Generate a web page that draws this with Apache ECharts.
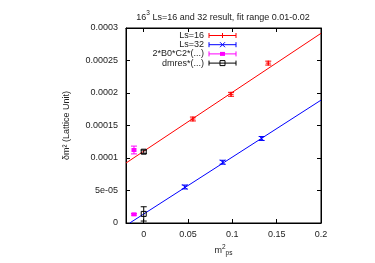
<!DOCTYPE html>
<html><head><meta charset="utf-8">
<script src="https://cdn.jsdelivr.net/npm/echarts@6/dist/echarts.min.js"></script>
<style>html,body{margin:0;padding:0;background:#fff}#c{width:375px;height:263px}</style>
</head><body><div id="c"></div>
<script>
// ---- data ----
const xTicks = [0, 0.05, 0.1, 0.15, 0.2];
const xTickLabels = ['0', '0.05', '0.1', '0.15', '0.2'];
const yTicks = [0, 0.00005, 0.0001, 0.00015, 0.0002, 0.00025, 0.0003];
const yTickLabels = ['0', '5e-05', '0.0001', '0.00015', '0.0002', '0.00025', '0.0003'];

const ls16X = [0.0555, 0.0985, 0.1405];
const ls16Y = [0.000160, 0.000198, 0.000246];
const ls16Err = [0.000003, 0.000003, 0.000003];

const ls32X = [0.0463, 0.089, 0.133];
const ls32Y = [0.0000554, 0.0000935, 0.000130];
const ls32Err = [0.000003, 0.000003, 0.000003];

const b0c2X = [-0.011, -0.011];
const b0c2Y = [0.0001123, 0.0000133];
const b0c2Err = [0.000006, 0.0000012];

const dmresX = [0, 0];
const dmresY = [0.0001097, 0.0000140];
const dmresErr = [0.0000025, 0.000011];

const fit16 = [[-0.02, 0.0000923], [0.2, 0.0002918]];
const fit32 = [[-0.0158, 0], [0.2, 0.000189]];

const legendNames = ['Ls=16', 'Ls=32', '2*B0*C2*(...)', 'dmres*(...)'];
const RED = '#ff0000', BLUE = '#0000ff', MAG = '#ff00ff', BLK = '#000000';
const colors = [RED, BLUE, MAG, BLK];
const markers = ['plus', 'cross', 'fsquare', 'osquare'];

function zip(xs, ys, es) { return xs.map((x, i) => [x, ys[i], es[i]]); }

function markerShapes(kind, cx, cy, color) {
  const s = 2.5;
  const st = { stroke: color, lineWidth: 1 };
  if (kind === 'plus') return [
    { type: 'line', shape: { x1: cx - s, y1: cy, x2: cx + s, y2: cy }, style: st },
    { type: 'line', shape: { x1: cx, y1: cy - s, x2: cx, y2: cy + s }, style: st }];
  if (kind === 'cross') return [
    { type: 'line', shape: { x1: cx - s, y1: cy - s, x2: cx + s, y2: cy + s }, style: st },
    { type: 'line', shape: { x1: cx - s, y1: cy + s, x2: cx + s, y2: cy - s }, style: st }];
  if (kind === 'fsquare') return [
    { type: 'rect', shape: { x: cx - 2.5, y: cy - 2, width: 5, height: 4 }, style: { fill: color } }];
  return [{ type: 'rect', shape: { x: cx - 2.5, y: cy - 2.5, width: 5, height: 5 }, style: { fill: 'none', stroke: color, lineWidth: 1 } }];
}

function errSeries(data, color, kind) {
  return {
    type: 'custom', data: data, z: 5, clip: false,
    renderItem: function (params, api) {
      const x = api.value(0), y = api.value(1), e = api.value(2);
      const p = api.coord([x, y]);
      const t = api.coord([x, y + e]);
      const b = api.coord([x, y - e]);
      const w = 3;
      const st = { stroke: color, lineWidth: 1 };
      const ch = [
        { type: 'line', shape: { x1: p[0], y1: t[1], x2: p[0], y2: b[1] }, style: st },
        { type: 'line', shape: { x1: p[0] - w, y1: t[1], x2: p[0] + w, y2: t[1] }, style: st },
        { type: 'line', shape: { x1: p[0] - w, y1: b[1], x2: p[0] + w, y2: b[1] }, style: st }
      ].concat(markerShapes(kind, p[0], p[1], color));
      return { type: 'group', children: ch };
    }
  };
}

const FONT = 'Liberation Sans, Arial, sans-serif';
const TXT = '#222';
const chart = echarts.init(document.getElementById('c'), null, { renderer: 'canvas' });

const legendGraphics = [];
legendNames.forEach((n, i) => {
  const y = 35.5 + i * 9.2;
  legendGraphics.push({ type: 'text', x: 204, y: y, style: { text: n, font: '9px ' + FONT, fill: TXT, textAlign: 'right', textVerticalAlign: 'middle' } });
  const st = { stroke: colors[i], lineWidth: 1 };
  legendGraphics.push({ type: 'group', children: [
    { type: 'line', shape: { x1: 209, y1: y, x2: 236, y2: y }, style: st },
    { type: 'line', shape: { x1: 209, y1: y - 2.5, x2: 209, y2: y + 2.5 }, style: st },
    { type: 'line', shape: { x1: 236, y1: y - 2.5, x2: 236, y2: y + 2.5 }, style: st }
  ].concat(markerShapes(markers[i], 222.5, y, colors[i])) });
});

const tickStyle = { show: true, inside: true, length: 4, lineStyle: { color: '#000' } };
const axisCommon = {
  type: 'value', splitLine: { show: false },
  axisLine: { show: true, onZero: false, lineStyle: { color: '#000', width: 1 } }
};

chart.setOption({
  animation: false,
  backgroundColor: '#fff',
  title: {
    text: '{n|16}{s|3}{n| Ls=16 and 32 result, fit range 0.01-0.02}',
    left: 218, top: 5, textAlign: 'center',
    textStyle: { fontWeight: 'normal', rich: {
      n: { fontSize: 9, fontWeight: 'normal', fontFamily: FONT, color: TXT, verticalAlign: 'bottom', lineHeight: 12 },
      s: { fontSize: 6.5, fontWeight: 'normal', fontFamily: FONT, color: TXT, verticalAlign: 'top', lineHeight: 12 } } }
  },
  grid: { left: 126, right: 54, top: 28, bottom: 40, show: true, borderColor: '#000', borderWidth: 1 },
  xAxis: [
    Object.assign({}, axisCommon, { min: -0.02, max: 0.2, position: 'bottom',
      axisTick: Object.assign({}, tickStyle, { customValues: xTicks }),
      axisLabel: { customValues: xTicks, color: TXT, fontSize: 9, fontFamily: FONT, margin: 7,
        formatter: v => { const i = xTicks.findIndex(t => Math.abs(t - v) < 1e-9); return i >= 0 ? xTickLabels[i] : ''; } },
      name: '{m|m}{s|2}{b|ps}', nameLocation: 'middle', nameGap: 20,
      nameTextStyle: { rich: {
        m: { fontSize: 9, fontFamily: FONT, color: TXT, verticalAlign: 'middle', lineHeight: 13 },
        s: { fontSize: 6.5, fontFamily: FONT, color: TXT, verticalAlign: 'top', lineHeight: 13 },
        b: { fontSize: 6.5, fontFamily: FONT, color: TXT, verticalAlign: 'bottom', lineHeight: 13 } } } }),
    Object.assign({}, axisCommon, { min: -0.02, max: 0.2, position: 'top',
      axisTick: Object.assign({}, tickStyle, { customValues: xTicks }),
      axisLabel: { show: false } })
  ],
  yAxis: [
    Object.assign({}, axisCommon, { min: 0, max: 0.0003, interval: 0.00005, position: 'left',
      axisTick: tickStyle,
      axisLabel: { color: TXT, fontSize: 9, fontFamily: FONT, margin: 8,
        formatter: v => { const i = yTicks.findIndex(t => Math.abs(t - v) < 1e-12); return i >= 0 ? yTickLabels[i] : ''; } },
      name: 'δm² (Lattice Unit)', nameLocation: 'middle', nameGap: 55, nameRotate: 90,
      nameTextStyle: { fontSize: 9, fontFamily: FONT, color: TXT } }),
    Object.assign({}, axisCommon, { min: 0, max: 0.0003, interval: 0.00005, position: 'right',
      axisTick: tickStyle, axisLabel: { show: false } })
  ],
  series: [
    { type: 'line', data: fit16, showSymbol: false, symbol: 'none', lineStyle: { color: RED, width: 1 }, z: 3 },
    { type: 'line', data: fit32, showSymbol: false, symbol: 'none', lineStyle: { color: BLUE, width: 1 }, z: 3 },
    errSeries(zip(ls16X, ls16Y, ls16Err), RED, 'plus'),
    errSeries(zip(ls32X, ls32Y, ls32Err), BLUE, 'cross'),
    errSeries(zip(b0c2X, b0c2Y, b0c2Err), MAG, 'fsquare'),
    errSeries(zip(dmresX, dmresY, dmresErr), BLK, 'osquare')
  ],
  graphic: legendGraphics
});
</script></body></html>
